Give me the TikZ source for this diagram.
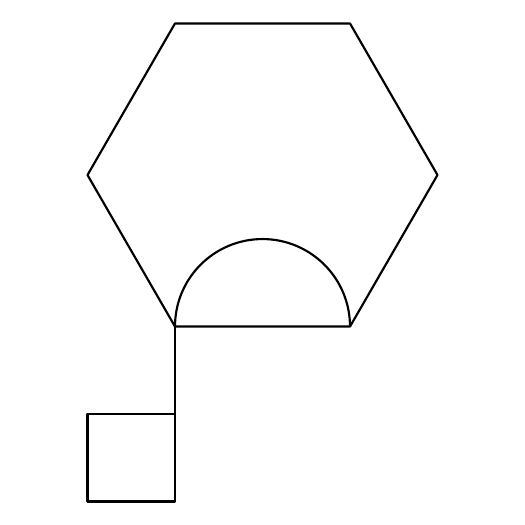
\documentclass[tikz,border=0pt]{standalone}
\begin{document}
\begin{tikzpicture}[line width=0.7pt, line join=round]
  \useasboundingbox (0,0) rectangle (6,6);
  % Hexagone
  \draw[shift={(3,4)}] (0:2) -- (60:2) -- (120:2) -- (180:2) -- (240:2)
        coordinate (bl) -- (300:2) coordinate (br) -- cycle;
  % Demi-cercle sur le bord inferieur
  \draw (br) arc[start angle=0, end angle=180, radius=1];
  % Tige et carre
  \draw (bl) -- ++(0,-1) coordinate (sq);
  \draw (sq) rectangle ++(-1,-1);
\end{tikzpicture}
\end{document}
